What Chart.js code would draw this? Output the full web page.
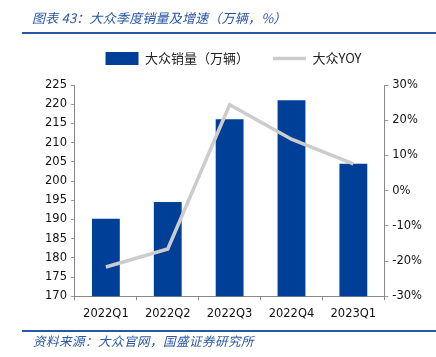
<!DOCTYPE html>
<html>
<head>
<meta charset="utf-8">
<script src="https://cdn.jsdelivr.net/npm/chart.js@4/dist/chart.umd.min.js"></script>
<style>
html,body{margin:0;padding:0;background:#fff;}
#wrap{position:relative;width:436px;height:357px;overflow:hidden;}
#c{position:absolute;left:0;top:0;}
.cap{position:absolute;font-family:"Noto Sans CJK SC","Noto Sans",sans-serif;font-style:italic;color:#2A56A6;white-space:nowrap;}
#title{left:32px;top:8px;font-size:13px;letter-spacing:0.2px;}
#src{left:33px;top:331px;font-size:12.5px;letter-spacing:0.5px;}
.rule{position:absolute;left:22px;right:0;height:2px;background:#2A56A6;}
</style>
</head>
<body>
<div id="wrap">
<canvas id="c" width="436" height="357"></canvas>
<div class="cap" id="title">图表 43：大众季度销量及增速（万辆，%）</div>
<div class="rule" style="top:32px"></div>
<div class="rule" style="top:330px"></div>
<div class="cap" id="src">资料来源：大众官网，国盛证券研究所</div>
</div>
<script>
const categories = ["2022Q1","2022Q2","2022Q3","2022Q4","2023Q1"];
const salesValues = [190.2, 194.5, 216.1, 221.0, 204.5];
const yoyValues = [-0.217, -0.166, 0.244, 0.146, 0.076];
const seriesNames = ["大众销量（万辆）","大众YOY"];

const legendGap = {
  id:'legendGap',
  beforeInit(chart){
    const lg = chart.legend;
    if(!lg) return;
    const orig = lg.fit;
    lg.fit = function(){ orig.call(this); this.height += 10; };
  }
};

const tickFont = {family:"DejaVu Sans, Verdana, sans-serif", size:11.5};
new Chart(document.getElementById('c'), {
  data: {
    labels: categories,
    datasets: [
      {type:'bar', label:seriesNames[0], data:salesValues, yAxisID:'y',
       backgroundColor:'#003F98', borderWidth:0, barPercentage:0.45, categoryPercentage:1.0,
       pointStyle:'rect', order:2},
      {type:'line', label:seriesNames[1], data:yoyValues, yAxisID:'y1',
       borderColor:'#CCCCCC', backgroundColor:'#CCCCCC', borderWidth:3.5, pointRadius:0,
       tension:0, pointStyle:'line', order:1}
    ]
  },
  plugins:[legendGap],
  options: {
    responsive:false, animation:false,
    layout:{padding:{top:28, left:41, right:10, bottom:29}},
    plugins:{
      legend:{display:true, position:'top',
        labels:{usePointStyle:true, pointStyleWidth:33, boxHeight:14, padding:24,
          sort:(a,b)=>a.datasetIndex-b.datasetIndex,
          color:'#222', font:{family:"Noto Sans CJK SC, sans-serif", size:13}}},
      tooltip:{enabled:false}
    },
    scales:{
      x:{grid:{display:true, drawOnChartArea:false, offset:true, tickLength:4, color:'#888'},
         border:{color:'#888'},
         ticks:{color:'#111', font:tickFont, padding:7}},
      y:{position:'left', min:170, max:225,
         ticks:{stepSize:5, color:'#111', font:tickFont, padding:4},
         grid:{drawOnChartArea:false, tickLength:4, color:'#999'},
         border:{color:'#888'}},
      y1:{position:'right', min:-0.3, max:0.3,
         ticks:{stepSize:0.1, color:'#111', font:tickFont, padding:4,
           callback:v=>Math.round(v*100)+'%'},
         grid:{drawOnChartArea:false, tickLength:4, color:'#999'},
         border:{color:'#888'}}
    }
  }
});
</script>
</body>
</html>
